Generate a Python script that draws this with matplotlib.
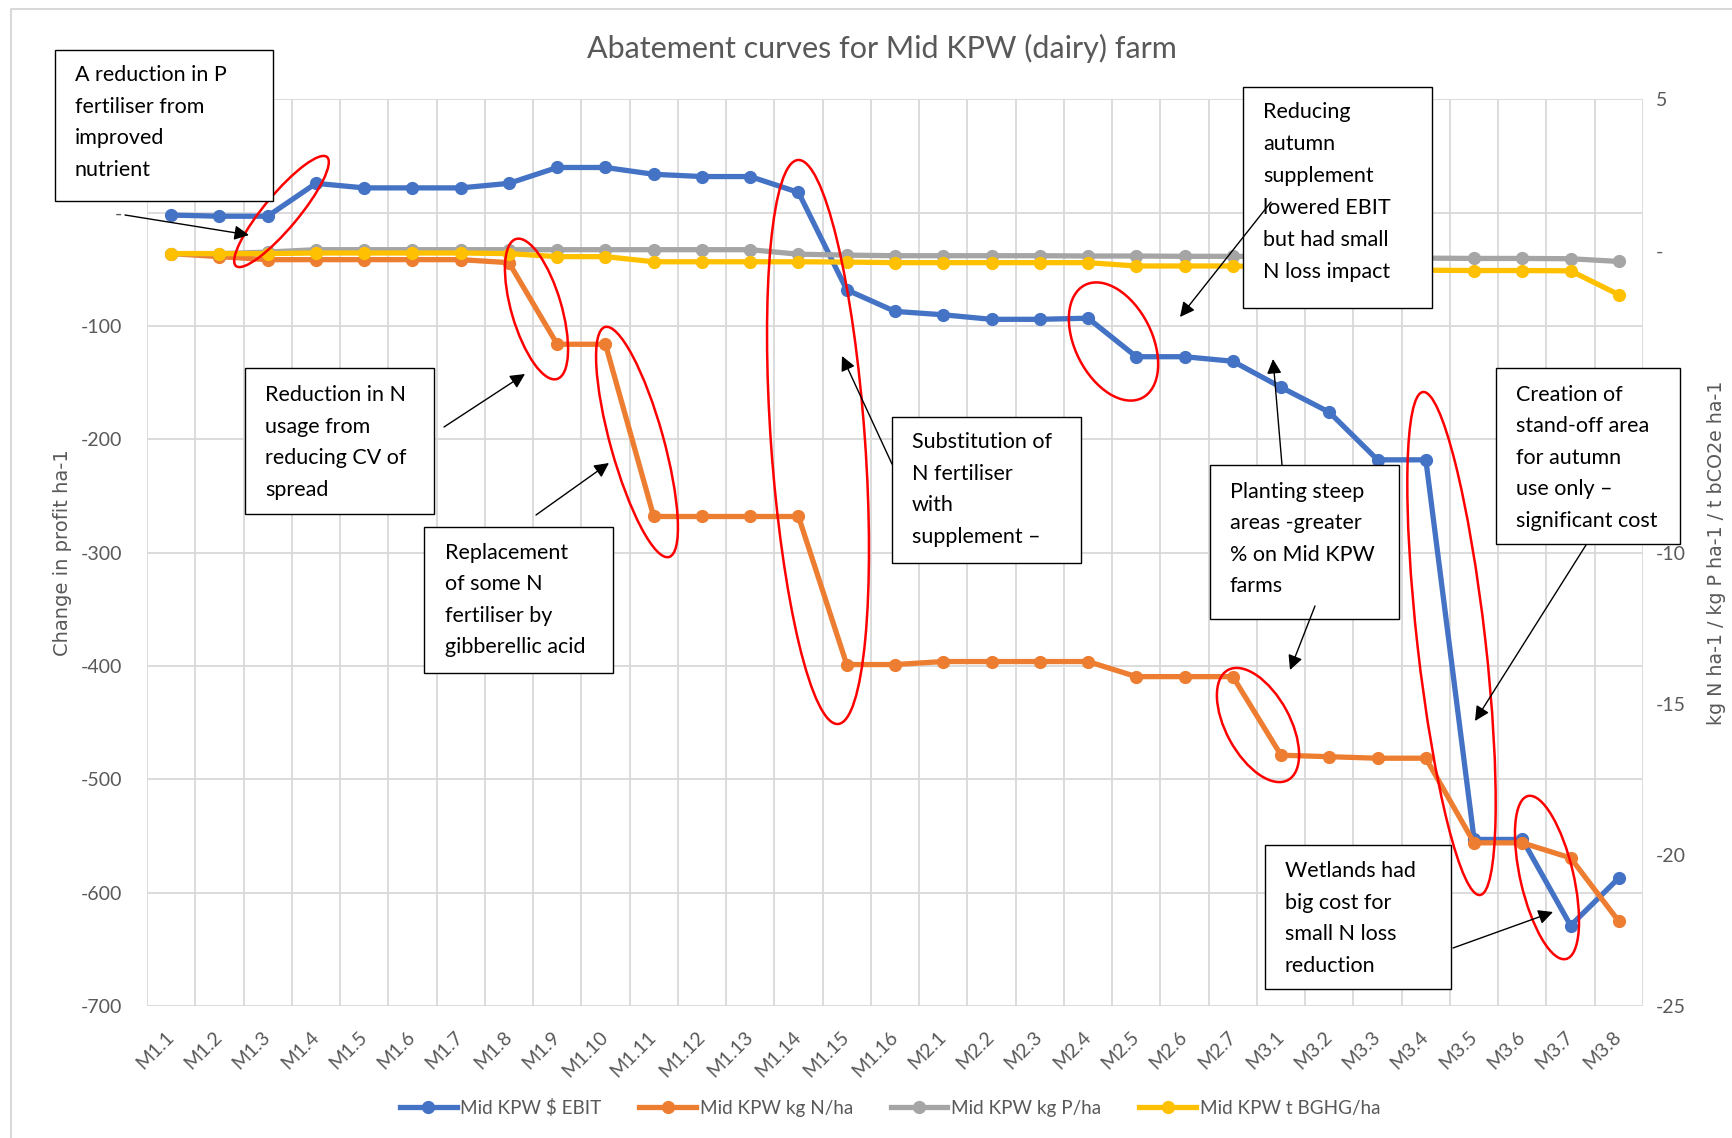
import math
import matplotlib
matplotlib.use("Agg")
import matplotlib.pyplot as plt
from matplotlib.patches import Rectangle, Ellipse

# categories
cats = ["M1.1", "M1.2", "M1.3", "M1.4", "M1.5", "M1.6", "M1.7", "M1.8", "M1.9", "M1.10",
        "M1.11", "M1.12", "M1.13", "M1.14", "M1.15", "M1.16",
        "M2.1", "M2.2", "M2.3", "M2.4", "M2.5", "M2.6", "M2.7",
        "M3.1", "M3.2", "M3.3", "M3.4", "M3.5", "M3.6", "M3.7", "M3.8"]

# series (EBIT on left axis, the others on right axis)
ebit = [-2, -3, -3, 26, 22, 22, 22, 26, 40, 40, 34, 32, 32, 18, -68, -87,
        -90, -94, -94, -93, -127, -127, -131,
        -154, -176, -218, -218, -553, -553, -629, -587]
n_loss = [-0.1, -0.2, -0.3, -0.3, -0.3, -0.3, -0.3, -0.4, -3.1, -3.1, -8.8, -8.8, -8.8, -8.8, -13.7, -13.7,
          -13.6, -13.6, -13.6, -13.6, -14.1, -14.1, -14.1,
          -16.7, -16.75, -16.8, -16.8, -19.6, -19.6, -20.1, -22.2]
p_loss = [-0.1, -0.1, -0.05, 0.03, 0.03, 0.03, 0.03, 0.03, 0.03, 0.03, 0.03, 0.03, 0.03, -0.12, -0.15, -0.17,
          -0.17, -0.17, -0.17, -0.18, -0.18, -0.19, -0.19,
          -0.2, -0.22, -0.24, -0.25, -0.26, -0.26, -0.27, -0.36]
ghg = [-0.1, -0.1, -0.1, -0.08, -0.08, -0.08, -0.08, -0.1, -0.2, -0.2, -0.37, -0.37, -0.37, -0.37, -0.38, -0.4,
       -0.4, -0.4, -0.4, -0.4, -0.51, -0.51, -0.51,
       -0.55, -0.6, -0.62, -0.65, -0.66, -0.66, -0.67, -1.46]

left_ticks = [-700, -600, -500, -400, -300, -200, -100, 0, 100]
right_ticks = [-25, -20, -15, -10, -5, 0, 5]

W, H = 1733, 1138
FONT = "Lato"
GREY = "#595959"

fig = plt.figure(figsize=(W / 100, H / 100), dpi=100)
ax = fig.add_axes([147 / W, 1 - 1006 / H, 1496 / W, 906.5 / H])
ax2 = ax.twinx()

x = list(range(len(cats)))
kw = dict(marker="o", lw=3.8, markersize=8.5, solid_joinstyle="round")
l1, = ax.plot(x, ebit, color="#4472C4", label="Mid KPW $ EBIT", **kw)
l2, = ax2.plot(x, n_loss, color="#ED7D31", label="Mid KPW kg N/ha", **kw)
l3, = ax2.plot(x, p_loss, color="#A5A5A5", label="Mid KPW kg P/ha", **kw)
l4, = ax2.plot(x, ghg, color="#FFC000", label="Mid KPW t BGHG/ha", **kw)

ax.set_xlim(-0.5, len(cats) - 0.5)
ax.set_ylim(-700, 100)
ax2.set_ylim(-25, 5)

ax.set_xticks(x)
ax.set_xticklabels(cats)
ax.set_xticks([i - 0.5 for i in range(len(cats) + 1)], minor=True)
ax.grid(which="minor", axis="x", color="#D9D9D9", lw=1.3)
ax.grid(which="major", axis="y", color="#D9D9D9", lw=1.3)
ax.set_yticks(left_ticks)
# the top label (100) and the -5 label sit under callout boxes in the reference
ax.set_yticklabels(["-" if v == 0 else ("" if v == 100 else str(v)) for v in left_ticks])
ax2.set_yticks(right_ticks)
ax2.set_yticklabels(["-" if v == 0 else ("" if v == -5 else str(v)) for v in right_ticks])

for a in (ax, ax2):
    for s in a.spines.values():
        s.set_visible(False)
    a.tick_params(which="both", length=0, labelsize=14, labelcolor=GREY)
    for t in a.get_xticklabels() + a.get_yticklabels():
        t.set_family(FONT)
ax.tick_params(axis="y", pad=18)
ax2.tick_params(axis="y", pad=9)
ax.tick_params(axis="x", pad=20)
plt.setp(ax.get_xticklabels(), rotation=45, ha="right", va="center", rotation_mode="anchor")

ax.set_ylabel("Change in profit ha-1", family="DejaVu Sans", fontsize=14, color=GREY)
ax.yaxis.set_label_coords((72 - 147) / 1496, 0.5)
ax2.set_ylabel("kg N ha-1 / kg P ha-1 / t bCO2e ha-1", family="DejaVu Sans", fontsize=13.7, color=GREY)
ax2.yaxis.set_label_coords((1707 - 147) / 1496, 0.5)

fig.text(882 / W, 1 - 48.6 / H, "Abatement curves for Mid KPW (dairy) farm",
         ha="center", va="center", fontsize=22, color=GREY, family=FONT)

fig.legend(handles=[l1, l2, l3, l4], loc="center", bbox_to_anchor=(890 / W, 1 - 1108 / H),
           ncol=4, frameon=False, handlelength=3, columnspacing=2.0, handletextpad=0.2,
           prop={"family": FONT, "size": 13.6}, labelcolor=GREY)

# overlay in pixel units for the annotations
ov = fig.add_axes([0, 0, 1, 1])
ov.set_xlim(0, W)
ov.set_ylim(H, 0)
ov.axis("off")
ov.patch.set_visible(False)

ov.plot([11, 11, W], [H, 9, 9], color="#D9D9D9", lw=1.5)


def box(x0, y0, x1, y1, tx, ty, lines, dy=31.5):
    ov.add_patch(Rectangle((x0, y0), x1 - x0, y1 - y0, fc="white", ec="black", lw=1, zorder=3))
    for i, s in enumerate(lines):
        ov.text(tx, ty + i * dy, s, ha="left", va="center", fontsize=15.5, family=FONT,
                color="black", zorder=4)


def ell(p1, p2, w):
    cx, cy = (p1[0] + p2[0]) / 2, (p1[1] + p2[1]) / 2
    L = math.hypot(p2[0] - p1[0], p2[1] - p1[1])
    ang = math.degrees(math.atan2(p2[1] - p1[1], p2[0] - p1[0]))
    ov.add_patch(Ellipse((cx, cy), L, w, angle=ang, fill=False, ec="red", lw=1.8, zorder=2))


def arrow(p1, p2):
    ov.annotate("", xy=p2, xytext=p1,
                arrowprops=dict(arrowstyle="-|>", color="black", lw=1, mutation_scale=22,
                                shrinkA=0, shrinkB=0), zorder=5)


box(55, 50, 273, 201, 75, 75, ["A reduction in P", "fertiliser from", "improved", "nutrient"])
box(245, 368, 434, 514, 265, 395, ["Reduction in N", "usage from", "reducing CV of", "spread"])
box(424, 527, 613, 673, 445, 552.6, ["Replacement", "of some N", "fertiliser by", "gibberellic acid"])
box(892, 417, 1081, 563, 912, 442, ["Substitution of", "N fertiliser", "with", "supplement \u2013"])
box(1243, 87, 1432, 308, 1263, 111.6,
    ["Reducing", "autumn", "supplement", "lowered EBIT", "but had small", "N loss impact"], dy=32)
box(1210, 465, 1399, 619, 1230, 491.8, ["Planting steep", "areas -greater", "% on Mid KPW", "farms"])
box(1496, 368, 1680, 544, 1516, 394.6,
    ["Creation of", "stand-off area", "for autumn", "use only \u2013", "significant cost"])
box(1265, 845, 1451, 989, 1285, 871, ["Wetlands had", "big cost for", "small N loss", "reduction"])

ell((327, 157), (236, 266), 34)
ell((516, 239), (557, 379), 50)
ell((605, 327), (669, 557), 53)
ell((798, 160), (838, 724), 94)
ell((1085, 285), (1142, 398), 77)
ell((1228, 670), (1288, 780), 64)
ell((1423, 392), (1480, 895), 68)
ell((1528, 796), (1566, 959), 53)

arrow((125, 215), (249, 235))
arrow((444, 427), (525, 374))
arrow((536, 515), (609, 463))
arrow((892, 464), (842, 356))
arrow((1271, 202), (1180, 317))
arrow((1282, 465), (1273, 359))
arrow((1315, 606), (1290, 670))
arrow((1586, 545), (1475, 721))
arrow((1453, 948), (1553, 912))

fig.savefig("out.png", dpi=100)
